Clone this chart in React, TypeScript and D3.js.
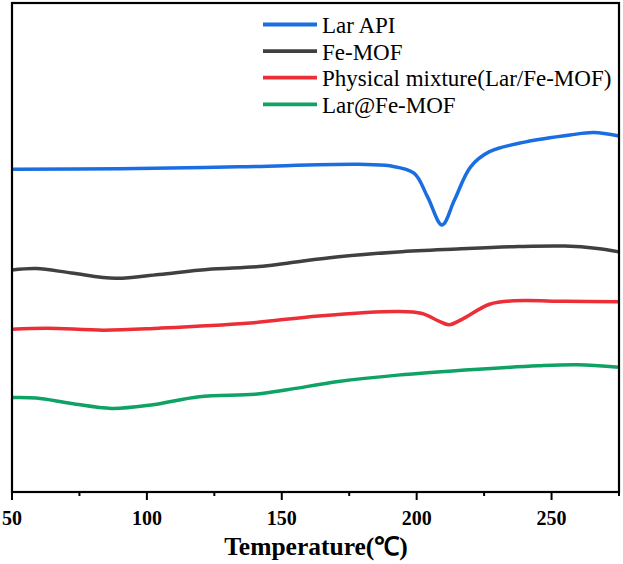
import React, { useEffect, useRef } from 'react';
import * as d3 from 'd3';

// DSC curves, heat flow in arbitrary units (no y scale shown in the figure)
const larApiT = [50, 90, 134, 178.5, 190, 199, 204, 209.4, 214, 220, 227, 240.5, 256.8, 265.6, 275];
const larApiV = [66.0, 66.1, 66.5, 67.0, 66.7, 65.2, 60.4, 54.6, 59.7, 66.5, 69.6, 71.6, 73.0, 73.5, 72.8];

const feMofT = [50, 59, 72, 88.4, 104.5, 122.3, 141.5, 152, 171, 193, 215, 237.5, 255, 267, 275];
const feMofV = [45.4, 45.7, 44.8, 43.7, 44.5, 45.5, 46.1, 46.8, 48.1, 49.1, 49.7, 50.2, 50.3, 49.8, 49.1];

const mixT = [50, 63, 84, 104.5, 137, 163.7, 193, 202, 208, 212, 216.8, 227, 236, 255, 275];
const mixV = [33.3, 33.5, 33.1, 33.5, 34.5, 36.0, 36.9, 36.5, 35.0, 34.2, 35.3, 38.4, 39.1, 39.0, 38.9];

const loadedT = [50, 59, 72, 87, 101.5, 119.4, 140, 152, 171, 193, 222.8, 245, 259.7, 275];
const loadedV = [19.3, 19.2, 18.1, 17.1, 17.8, 19.5, 20.0, 20.9, 22.6, 23.9, 25.1, 25.8, 26.0, 25.5];

const seriesNames = ['Lar API', 'Fe-MOF', 'Physical mixture(Lar/Fe-MOF)', 'Lar@Fe-MOF'];
const seriesColors = ['#1a6ee2', '#404040', '#ec2f36', '#0fa265'];
const xTicks = [50, 100, 150, 200, 250];
const xMinorTicks = [75, 125, 175, 225, 275];

const serif = '"Liberation Serif", "Times New Roman", serif';

const App = () => {
  const ref = useRef<SVGSVGElement>(null);

  useEffect(() => {
    const svg = d3.select(ref.current);
    svg.selectAll('*').remove();

    const left = 12;
    const right = 619;
    const top = 3;
    const bottom = 492;

    const x = d3.scaleLinear().domain([50, 275]).range([left, right]);
    const y = d3.scaleLinear().domain([0, 100]).range([bottom, top]);

    const series = [
      { t: larApiT, v: larApiV },
      { t: feMofT, v: feMofV },
      { t: mixT, v: mixV },
      { t: loadedT, v: loadedV },
    ];

    const line = d3
      .line<[number, number]>()
      .x(d => x(d[0]))
      .y(d => y(d[1]))
      .curve(d3.curveCatmullRom.alpha(0.5));

    series.forEach((s, i) => {
      const pts = s.t.map((t, j) => [t, s.v[j]] as [number, number]);
      svg
        .append('path')
        .datum(pts)
        .attr('fill', 'none')
        .attr('stroke', seriesColors[i])
        .attr('stroke-width', 3.5)
        .attr('stroke-linejoin', 'round')
        .attr('d', line);
    });

    // frame
    svg
      .append('rect')
      .attr('x', left)
      .attr('y', top)
      .attr('width', right - left)
      .attr('height', bottom - top)
      .attr('fill', 'none')
      .attr('stroke', '#000')
      .attr('stroke-width', 2.2);

    // x axis ticks
    const xAxis = svg.append('g').attr('transform', `translate(0,${bottom})`);
    xAxis
      .selectAll('line.major')
      .data(xTicks)
      .enter()
      .append('line')
      .attr('x1', d => x(d))
      .attr('x2', d => x(d))
      .attr('y1', 0)
      .attr('y2', 8)
      .attr('stroke', '#000')
      .attr('stroke-width', 2);
    xAxis
      .selectAll('line.minor')
      .data(xMinorTicks)
      .enter()
      .append('line')
      .attr('x1', d => x(d))
      .attr('x2', d => x(d))
      .attr('y1', 0)
      .attr('y2', 4)
      .attr('stroke', '#000')
      .attr('stroke-width', 2);
    xAxis
      .selectAll('text')
      .data(xTicks)
      .enter()
      .append('text')
      .attr('x', d => x(d))
      .attr('y', 32.5)
      .attr('text-anchor', 'middle')
      .style('font-family', serif)
      .style('font-weight', 'bold')
      .style('font-size', '20px')
      .text(d => d);

    svg
      .append('text')
      .attr('x', 316)
      .attr('y', 555)
      .attr('text-anchor', 'middle')
      .style('font-family', serif)
      .style('font-weight', 'bold')
      .style('font-size', '25.5px')
      .text('Temperature(℃)');

    // legend
    const legend = svg.append('g');
    seriesNames.forEach((name, i) => {
      const ly = 24.5 + i * 26.6;
      legend
        .append('line')
        .attr('x1', 263)
        .attr('x2', 317)
        .attr('y1', ly)
        .attr('y2', ly)
        .attr('stroke', seriesColors[i])
        .attr('stroke-width', 3.8);
      legend
        .append('text')
        .attr('x', 322)
        .attr('y', ly + 8.5)
        .style('font-family', serif)
        .style('font-size', '23px')
        .text(name);
    });
  }, []);

  return (
    <svg
      ref={ref}
      width={623}
      height={564}
      style={{ position: 'absolute', left: 0, top: 0, background: '#fff' }}
    />
  );
};

export default App;
